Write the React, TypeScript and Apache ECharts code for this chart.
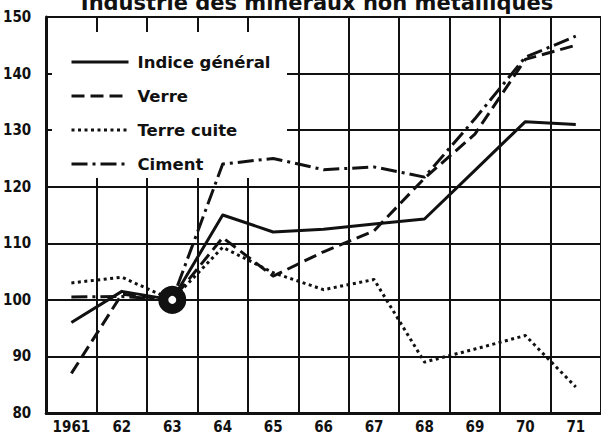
import React, { useEffect, useRef } from "react";
import * as echarts from "echarts";

const titleText = "Industrie des minéraux non métalliques";
const years = ["1961", "62", "63", "64", "65", "66", "67", "68", "69", "70", "71"];
const indiceGeneral = [96, 101.5, 100, 115, 112, 112.5, 113.4, 114.3, 122.9, 131.5, 131];
const verre = [87, 101, 100, 111, 104.2, 108.5, 112.2, 121.5, 129.3, 142.5, 145];
const terreCuite = [103, 104, 100, 109.3, 104.8, 101.8, 103.6, 89, 91.3, 93.7, 84.6];
const ciment = [100.5, 100.6, 100, 124, 125, 123, 123.5, 121.7, 132, 142.9, 146.6];
const baseYear = "63";
const baseValue = 100;
const yMin = 80;
const yMax = 150;
const yStep = 10;

const INK = "#111";
const narrowFont = '"Liberation Sans Narrow", "DejaVu Sans Condensed", "Noto Sans", sans-serif';
const wideFont = '"DejaVu Sans", "Noto Sans", sans-serif';

const GRID = { left: 36, top: 17, width: 568, height: 396 };

export default function App() {
  const ref = useRef<HTMLDivElement | null>(null);

  useEffect(() => {
    if (!ref.current) return;
    const chart = echarts.init(ref.current, undefined, { renderer: "svg" });

    const lineSeries = (name: string, data: number[], type: any, cap: string = "butt") => ({
      name,
      type: "line",
      data,
      symbol: "none",
      showSymbol: false,
      z: 2,
      lineStyle: { color: INK, width: 3, type, cap, join: "round" },
      itemStyle: { color: INK },
    });

    const option: any = {
      animation: false,
      backgroundColor: "#fff",
      grid: { ...GRID, containLabel: false },
      xAxis: {
        type: "category",
        data: years,
        boundaryGap: true,
        axisLine: { lineStyle: { color: INK, width: 3 } },
        axisTick: { show: false },
        splitLine: { show: true, interval: 0, lineStyle: { color: INK, width: 2 } },
        axisLabel: {
          interval: 0,
          margin: 6,
          color: INK,
          fontFamily: narrowFont,
          fontWeight: "bold",
          fontSize: 15,
        },
      },
      yAxis: {
        type: "value",
        min: yMin,
        max: yMax,
        interval: yStep,
        axisLine: { show: true, lineStyle: { color: INK, width: 3 } },
        axisTick: { show: false },
        splitLine: { show: true, lineStyle: { color: INK, width: 2 } },
        axisLabel: {
          margin: 15,
          color: INK,
          fontFamily: narrowFont,
          fontWeight: "bold",
          fontSize: 15,
        },
      },
      legend: {
        data: ["Indice général", "Verre", "Terre cuite", "Ciment"],
        orient: "vertical",
        left: 65,
        top: 47,
        itemWidth: 57,
        itemHeight: 20,
        itemGap: 14,
        selectedMode: false,
        itemStyle: { color: "rgba(0,0,0,0)", borderWidth: 0, opacity: 0 },
        lineStyle: { width: 3 },
        textStyle: {
          color: INK,
          fontFamily: wideFont,
          fontWeight: "bold",
          fontSize: 16.5,
          lineHeight: 20,
          padding: [0, 0, 0, 4],
        },
      },
      graphic: [
        {
          type: "rect",
          z: 1,
          silent: true,
          shape: { x: 52, y: 32, width: 235, height: 146 },
          style: { fill: "#fff" },
        },
        {
          type: "text",
          z: 5,
          silent: true,
          x: 317,
          y: 3,
          style: {
            text: titleText,
            fill: INK,
            font: `bold 21px ${wideFont}`,
            textAlign: "center",
            textVerticalAlign: "middle",
          },
        },
      ],
      series: [
        lineSeries("Indice général", indiceGeneral, "solid"),
        lineSeries("Verre", verre, [13, 6]),
        lineSeries("Terre cuite", terreCuite, [3, 3.5]),
        lineSeries("Ciment", ciment, [16, 5, 3, 5]),
        {
          name: "base",
          type: "scatter",
          data: [[baseYear, baseValue]],
          symbol: "circle",
          symbolSize: 18,
          z: 5,
          itemStyle: { color: "#fff", borderColor: INK, borderWidth: 10, opacity: 1 },
        },
      ],
    };

    chart.setOption(option);
    return () => chart.dispose();
  }, []);

  return (
    <div
      ref={ref}
      style={{ position: "absolute", left: 0, top: 0, width: 601, height: 439, background: "#fff" }}
    />
  );
}
